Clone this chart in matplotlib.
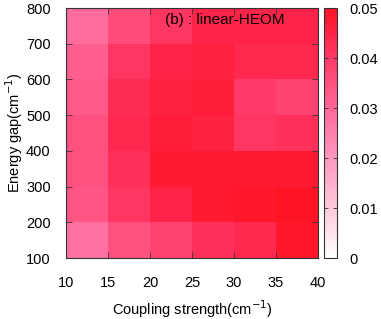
import numpy as np
import matplotlib
matplotlib.use('Agg')
import matplotlib.pyplot as plt
from matplotlib.colors import LinearSegmentedColormap

plt.rcParams['font.family'] = ['Liberation Sans', 'DejaVu Sans']

coupling = [10, 15, 20, 25, 30, 35, 40]
energy_gap = [100, 200, 300, 400, 500, 600, 700, 800]

# rows: energy gap bins from bottom (100-200) to top (700-800)
error = np.array([
    [0.028, 0.035, 0.038, 0.042, 0.044, 0.049],
    [0.034, 0.041, 0.045, 0.048, 0.049, 0.050],
    [0.035, 0.042, 0.048, 0.048, 0.048, 0.048],
    [0.035, 0.044, 0.047, 0.046, 0.041, 0.042],
    [0.033, 0.043, 0.046, 0.047, 0.040, 0.038],
    [0.032, 0.041, 0.045, 0.046, 0.044, 0.044],
    [0.029, 0.036, 0.041, 0.045, 0.045, 0.045],
])

cmap = LinearSegmentedColormap.from_list(
    'wpr', [(0.0, '#ffffff'), (0.2, '#ffc8dc'), (0.4, '#ff98c0'),
            (0.6, '#ff6898'), (0.8, '#ff3a68'), (0.9, '#ff2448'),
            (1.0, '#ff1424')])

fig = plt.figure(figsize=(3.81, 3.19), dpi=100)
ax = fig.add_axes([66/381, 1 - 258/319, 252/381, 250/319])
cax = fig.add_axes([324/381, 1 - 258/319, 13/381, 250/319])

mesh = ax.pcolormesh(coupling, energy_gap, error, cmap=cmap, vmin=0, vmax=0.05)
ax.set_xlim(10, 40)
ax.set_ylim(100, 800)
ax.set_xticks(coupling)
ax.set_yticks(energy_gap)
ax.tick_params(direction='in', top=True, right=True, length=4, width=0.6,
               labelsize=10.5, color='#333333')
ax.tick_params(axis='x', pad=13)
ax.tick_params(axis='y', pad=11)
for s in ax.spines.values():
    s.set_linewidth(0.8)
    s.set_color('#333333')
ax.set_xlabel('Coupling strength(cm$^{-1}$)', fontsize=10.5, labelpad=6)
ax.set_ylabel('Energy gap(cm$^{-1}$)', fontsize=10.5, labelpad=1)
ax.text(0.63, 0.952, '(b) : linear-HEOM', transform=ax.transAxes,
        ha='center', va='center', fontsize=11)

cb = fig.colorbar(mesh, cax=cax, ticks=[0, 0.01, 0.02, 0.03, 0.04, 0.05])
cb.ax.set_yticklabels(['0', '0.01', '0.02', '0.03', '0.04', '0.05'])
cb.ax.tick_params(direction='in', left=True, right=True, length=3, width=0.6,
                  labelsize=10.5, pad=9, color='#333333')
cb.outline.set_linewidth(0.8)
cb.outline.set_edgecolor('#333333')

fig.savefig('out.png', dpi=100)
